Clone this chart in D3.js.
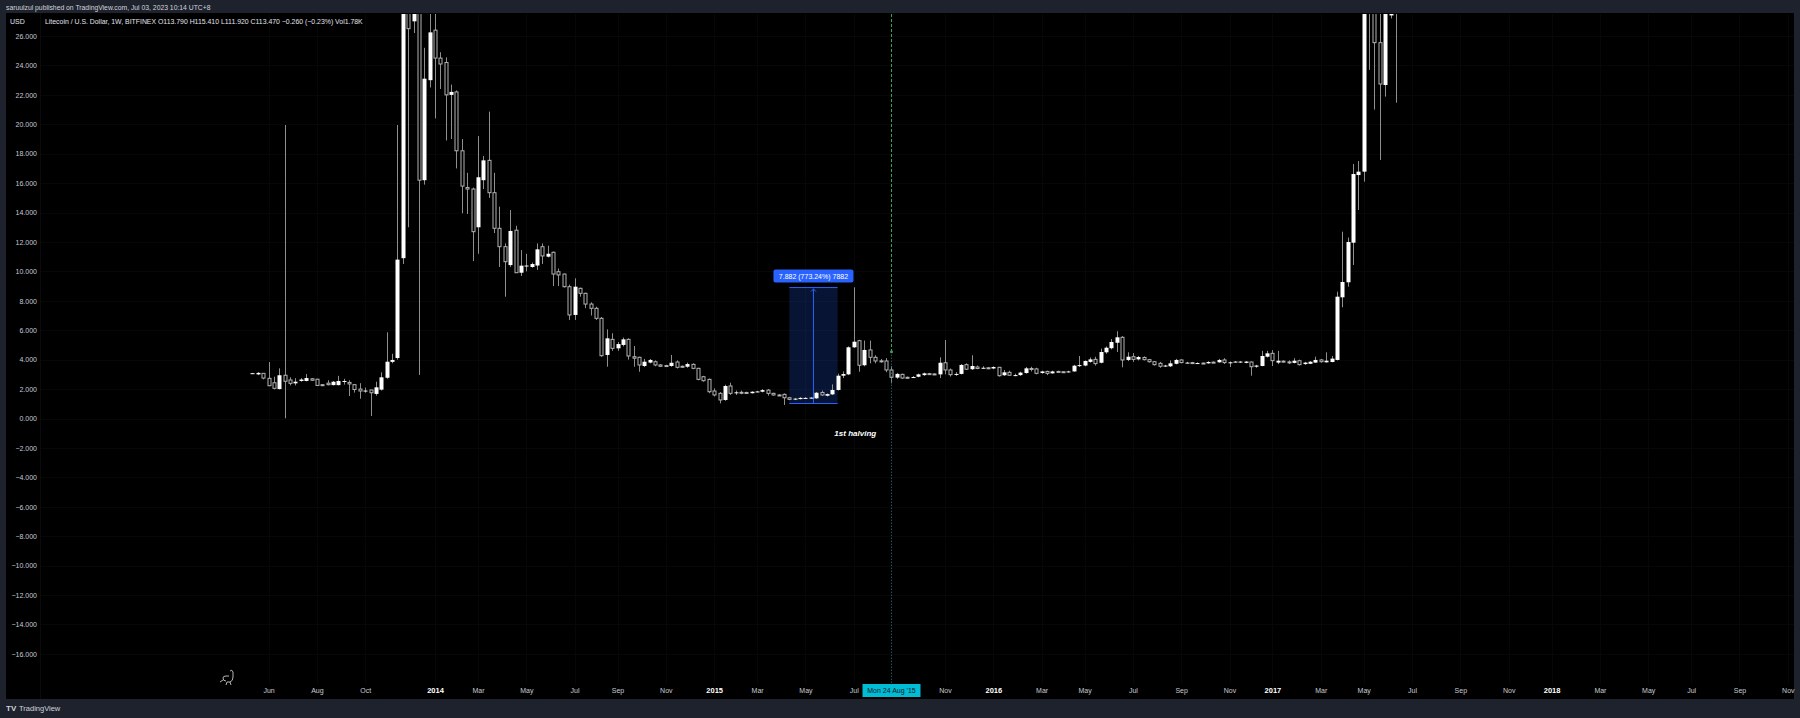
<!DOCTYPE html>
<html><head><meta charset="utf-8">
<script src="https://cdn.jsdelivr.net/npm/d3@7"></script>
<style>
html,body{margin:0;padding:0;background:#1e222d;overflow:hidden;}
svg{display:block;font-family:"Liberation Sans",Arial,sans-serif;}
</style></head><body>
<svg id="chart" width="1800" height="718"></svg>
<script>
// ---------------- DATA ----------------
const firstWeek = "2013-05-13"; // weekly bars (Mondays) start here
const opens = [3.06,3.0,3.07,2.73,2.43,2.0,2.94,2.62,2.39,2.55,2.55,2.7,2.67,2.3,2.4,2.27,2.27,2.55,2.45,2.3,
2.0,1.9,1.94,1.67,1.96,2.77,3.85,4.11,10.9,36,27.0,31,16.2,23.0,26.4,24.5,24.2,22.0,22.2,18.2,
15.7,15.6,13.0,16.2,17.55,15.35,12.93,11.68,10.43,12.8,9.91,10.35,10.3,10.4,11.68,11.0,11.3,9.98,9.82,8.96,
7.04,8.85,8.51,7.78,7.49,6.81,4.32,5.38,4.77,5.0,5.38,4.2,4.16,3.57,3.8,3.86,3.64,3.6,3.57,3.84,
3.55,3.52,3.68,3.41,2.84,2.66,1.87,1.71,1.26,2.21,1.72,1.78,1.77,1.72,1.82,1.82,1.93,1.71,1.6,1.64,
1.41,1.3,1.32,1.4,1.4,1.37,1.77,1.55,1.64,1.94,2.91,3.0,4.84,5.29,3.62,4.66,4.16,3.92,3.91,3.3,
2.78,3.0,2.8,2.8,2.84,2.95,3.05,3.03,3.0,3.79,3.3,3.0,3.03,3.66,3.35,3.5,3.42,3.45,3.4,3.48,
2.94,3.14,2.95,2.95,3.09,3.4,3.37,3.09,3.2,3.07,3.2,3.18,3.15,3.2,3.6,3.6,3.85,4.02,3.79,4.5,
4.78,5.15,5.52,3.98,4.2,4.02,4.15,4.0,3.86,3.75,3.55,3.55,3.72,3.98,3.8,3.8,3.75,3.77,3.75,3.83,
3.82,3.98,3.82,3.84,3.82,3.78,3.84,3.52,3.57,4.2,4.43,3.8,3.9,3.85,3.78,3.93,3.7,3.72,3.8,3.98,
3.82,3.84,3.98,8.24,9.26,11.95,16.55,16.78,29.5,28.5,25.55,22.67,27.4,30];
const highs = [3.1,3.15,3.08,3.84,2.84,3.41,19.95,2.8,2.74,2.75,3.02,2.75,2.7,2.33,2.6,2.55,2.9,2.7,2.6,2.35,
2.4,2.1,1.96,2.5,3.14,5.86,4.4,19.95,45,48,35,33,25.2,28.5,28.5,24.9,24.55,22.7,22.3,19.0,
16.7,15.7,19.2,17.85,20.86,16.7,14.4,11.9,14.17,13.1,11.45,11.2,10.6,11.9,11.9,11.75,11.35,10.2,9.85,9.1,
9.53,8.9,8.55,7.9,7.6,6.9,6.06,5.8,5.2,5.5,5.45,4.93,4.2,4.05,4.05,3.95,3.7,3.65,4.32,3.95,
3.6,3.8,3.75,3.45,2.9,2.72,2.05,1.8,2.3,2.43,1.9,1.9,1.82,1.85,1.88,2.0,2.0,1.75,1.65,1.7,
1.45,1.4,1.45,1.45,1.45,1.8,1.9,1.7,2.32,3.05,3.2,4.9,8.92,5.35,5.3,5.3,4.3,4.05,4.1,3.55,
3.1,3.05,2.85,2.88,3.05,3.12,3.1,3.08,4.16,5.34,3.4,3.15,3.7,3.75,4.3,3.6,3.55,3.5,3.55,3.5,
3.3,3.25,3.05,3.18,3.5,3.52,3.45,3.25,3.25,3.25,3.25,3.22,3.25,3.65,4.25,3.95,4.15,4.2,4.75,4.9,
5.4,5.93,5.6,4.5,4.45,4.25,4.22,4.05,3.9,3.85,3.65,3.95,4.05,4.02,3.85,3.85,3.82,3.8,3.9,3.88,
4.05,4.1,3.88,3.9,3.9,3.9,3.88,3.65,4.6,4.6,4.65,4.6,3.95,3.95,4.1,4.0,3.85,3.9,4.2,4.05,
4.5,4.25,8.62,12.7,12.3,17.3,17.5,32,31,29.5,28.5,32,31,32];
const lows = [3.05,2.95,2.66,2.2,1.98,1.98,0.01,2.25,2.25,2.5,2.53,2.55,2.2,2.2,2.25,2.25,2.25,2.3,1.53,1.76,
1.35,1.75,0.17,1.55,1.9,2.7,3.75,4.0,10.5,13.0,26.2,2.96,15.9,22.5,20.4,22.4,18.9,19.0,17.0,13.95,
13.9,10.7,11.2,15.6,15.0,12.6,10.3,8.28,10.3,9.9,9.69,10.0,10.25,10.1,10.5,10.95,9.0,9.0,8.9,6.7,
6.7,8.28,7.5,7.0,6.7,4.2,3.52,4.6,4.6,4.9,4.0,3.52,3.18,3.5,3.75,3.55,3.5,3.5,3.52,3.4,
3.45,3.45,3.35,2.6,2.5,1.72,1.5,1.03,1.2,1.6,1.6,1.65,1.68,1.7,1.78,1.78,1.55,1.55,1.55,0.92,
1.25,1.25,1.3,1.35,1.36,1.35,1.55,1.5,1.6,1.9,2.75,2.95,4.8,3.18,3.55,3.75,3.75,3.8,3.15,2.39,
2.7,2.7,2.72,2.75,2.8,2.9,2.98,2.95,2.75,3.0,2.85,2.9,3.0,3.3,3.3,3.35,3.38,3.35,3.35,2.85,
2.9,2.9,2.88,2.9,3.05,3.2,3.0,3.05,2.95,3.05,3.12,3.1,3.12,3.18,3.5,3.55,3.8,3.6,3.75,4.4,
4.7,4.52,3.48,3.9,3.85,3.95,3.95,3.8,3.6,3.45,3.5,3.5,3.68,3.75,3.75,3.7,3.7,3.7,3.72,3.78,
3.8,3.7,3.5,3.8,3.78,3.75,2.91,3.45,3.55,4.15,3.57,3.7,3.8,3.7,3.75,3.6,3.65,3.7,3.78,3.8,
3.8,3.82,3.95,7.56,8.96,10.43,14.17,16.1,23.7,21.0,17.57,21.88,27.2,21.47];
const closes = [3.08,3.1,2.75,2.23,2.05,2.94,2.53,2.39,2.5,2.65,2.75,2.6,2.25,2.25,2.3,2.5,2.55,2.55,2.35,1.97,
1.87,1.9,1.75,2.12,2.8,3.86,3.98,10.8,36,26.5,31,16.2,23.1,26.25,24.5,24.1,22.0,22.2,18.2,15.8,
15.6,12.7,16.4,17.55,15.35,12.93,11.68,10.66,12.75,9.91,10.39,10.4,10.5,11.5,11.05,11.2,9.82,9.76,8.96,7.04,
8.96,8.51,7.78,7.49,6.81,4.27,5.45,4.77,5.06,5.38,4.25,4.1,3.64,3.86,3.98,3.64,3.55,3.55,3.79,3.48,
3.5,3.7,3.41,2.66,2.57,1.82,1.6,1.26,2.21,1.71,1.78,1.75,1.73,1.82,1.84,1.93,1.71,1.6,1.58,1.41,
1.3,1.35,1.4,1.4,1.42,1.75,1.6,1.66,1.94,2.91,3.02,4.84,5.22,3.62,4.66,4.16,3.91,3.9,3.3,2.8,
3.03,2.75,2.78,2.82,3.0,3.07,3.03,3.0,3.79,3.3,2.98,3.03,3.64,3.35,3.57,3.4,3.45,3.4,3.5,2.91,
3.14,2.94,2.95,3.12,3.41,3.37,3.07,3.2,3.07,3.2,3.18,3.15,3.2,3.59,3.63,3.91,4.02,3.73,4.52,4.81,
5.2,5.52,3.98,4.2,4.02,4.18,4.0,3.86,3.66,3.55,3.6,3.75,3.98,3.8,3.8,3.75,3.77,3.75,3.84,3.82,
3.98,3.8,3.82,3.87,3.87,3.87,3.52,3.6,4.25,4.43,3.93,3.93,3.85,3.8,3.93,3.66,3.8,3.86,3.98,3.86,
3.93,4.07,8.28,9.28,12.0,16.62,16.78,29.5,28.5,25.55,22.74,29,30,29];

const yTicks = [26,24,22,20,18,16,14,12,10,8,6,4,2,0,-2,-4,-6,-8,-10,-12,-14,-16];
const xTickDates = ["2013-06-03","2013-08-05","2013-10-07","2014-01-06","2014-03-03","2014-05-05","2014-07-07","2014-09-01","2014-11-03",
"2015-01-05","2015-03-02","2015-05-04","2015-07-06","2015-11-02","2016-01-04","2016-03-07","2016-05-02","2016-07-04","2016-09-05","2016-11-07",
"2017-01-02","2017-03-06","2017-05-01","2017-07-03","2017-09-04","2017-11-06","2018-01-01","2018-03-05","2018-05-07","2018-07-02","2018-09-03","2018-11-05"];
const xTickLabels = ["Jun","Aug","Oct","2014","Mar","May","Jul","Sep","Nov",
"2015","Mar","May","Jul","Nov","2016","Mar","May","Jul","Sep","Nov",
"2017","Mar","May","Jul","Sep","Nov","2018","Mar","May","Jul","Sep","Nov"];

const rangeStart = "2015-04-13", rangeEnd = "2015-06-15";
const rangeLow = 1.0194, rangeHigh = 8.9014;
const rangeLabel = "7.882 (773.24%) 7882";
const halvingDate = "2015-08-24", halvingLinePrice = 4.54;
const halvingText = "1st halving", halvingTextDate = "2015-07-08", halvingTextPrice = -1.0;
const crosshairLabel = "Mon 24 Aug '15";
const headerText = "saruulzul published on TradingView.com, Jul 03, 2023 10:14 UTC+8";
const titleText = "Litecoin / U.S. Dollar, 1W, BITFINEX  O113.790 H115.410 L111.920 C113.470 \u22120.260 (\u22120.23%) Vol1.78K";
const currency = "USD";

// ---------------- LAYOUT ----------------
const W = 1800, H = 718;
const pane = {x0: 6, x1: 1794, y0: 13, y1: 699};
const plot = {x0: 41, x1: 1794, y0: 14, y1: 684};
const parse = d3.utcParse("%Y-%m-%d");

const x = d3.scaleUtc().domain([parse("2014-01-06"), parse("2018-01-01")]).range([435, 1551.6]);
const y = d3.scaleLinear().domain([0, 26]).range([418.5, 418.5 - 26 * 14.71]);

const bars = opens.map((o, i) => ({
  date: d3.utcWeek.offset(parse(firstWeek), i),
  o, h: highs[i], l: lows[i], c: closes[i]
}));

const svg = d3.select("#chart");
svg.append("rect").attr("width", W).attr("height", H).attr("fill", "#1e222d");
svg.append("rect").attr("x", pane.x0).attr("y", pane.y0).attr("width", pane.x1 - pane.x0).attr("height", pane.y1 - pane.y0).attr("fill", "#000000");

// header
svg.append("text").attr("x", 6).attr("y", 9.5).attr("fill", "#d1d4dc").attr("font-size", 6.8).text(headerText);

const defs = svg.append("defs");
defs.append("clipPath").attr("id", "clip").append("rect")
  .attr("x", plot.x0).attr("y", plot.y0).attr("width", plot.x1 - plot.x0).attr("height", plot.y1 - plot.y0);

// grid (very faint)
const grid = svg.append("g").attr("clip-path", "url(#clip)");
grid.selectAll("line.v").data(xTickDates).join("line")
  .attr("x1", d => Math.round(x(parse(d))) + 0.5).attr("x2", d => Math.round(x(parse(d))) + 0.5)
  .attr("y1", plot.y0).attr("y2", plot.y1).attr("stroke", "#070709").attr("stroke-width", 1);
grid.selectAll("line.h").data(yTicks).join("line")
  .attr("x1", plot.x0).attr("x2", plot.x1)
  .attr("y1", d => Math.round(y(d)) + 0.5).attr("y2", d => Math.round(y(d)) + 0.5)
  .attr("stroke", "#070709").attr("stroke-width", 1);

// separator between price axis and plot
svg.append("line").attr("x1", 40.5).attr("x2", 40.5).attr("y1", pane.y0).attr("y2", pane.y1)
  .attr("stroke", "#0b0b0e");

// y axis
const yAxis = d3.axisLeft(y).tickValues(yTicks).tickSize(0).tickPadding(0)
  .tickFormat(d => (d < 0 ? "\u2212" : "") + d3.format(".3f")(Math.abs(d)));
const gy = svg.append("g").attr("transform", "translate(37,0)").call(yAxis);
gy.select(".domain").remove();
gy.selectAll("text").attr("fill", "#c8cbd3").attr("font-size", 7).attr("font-family", "Liberation Sans, Arial, sans-serif");

svg.append("text").attr("x", 10).attr("y", 24).attr("fill", "#e0e3eb").attr("font-size", 7).text(currency);
svg.append("text").attr("x", 45).attr("y", 24).attr("fill", "#e0e3eb").attr("font-size", 6.9).text(titleText);

// measure range box
const rx0 = x(parse(rangeStart)), rx1 = x(parse(rangeEnd));
const ry0 = y(rangeHigh), ry1 = y(rangeLow);
const rg = svg.append("g").attr("clip-path", "url(#clip)");
rg.append("rect").attr("x", rx0).attr("y", ry0).attr("width", rx1 - rx0).attr("height", ry1 - ry0)
  .attr("fill", "rgba(41,98,255,0.2)");
rg.append("line").attr("x1", rx0).attr("x2", rx1).attr("y1", ry0).attr("y2", ry0).attr("stroke", "#2962ff").attr("stroke-width", 1);
rg.append("line").attr("x1", rx0).attr("x2", rx1).attr("y1", ry1).attr("y2", ry1).attr("stroke", "#2962ff").attr("stroke-width", 1);
const rmx = (rx0 + rx1) / 2;
rg.append("line").attr("x1", rmx).attr("x2", rmx).attr("y1", ry1).attr("y2", ry0 + 1).attr("stroke", "#2962ff").attr("stroke-width", 1);
rg.append("path").attr("d", `M${rmx - 2.5},${ry0 + 4} L${rmx},${ry0 + 1.5} L${rmx + 2.5},${ry0 + 4}`)
  .attr("fill", "none").attr("stroke", "#2962ff").attr("stroke-width", 1);

// candles
const cg = svg.append("g").attr("clip-path", "url(#clip)");
const cand = cg.selectAll("g.c").data(bars).join("g");
cand.append("line")
  .attr("x1", d => Math.round(x(d.date)) + 0.5).attr("x2", d => Math.round(x(d.date)) + 0.5)
  .attr("y1", d => y(d.h)).attr("y2", d => y(d.l))
  .attr("stroke", "#8f8f8f").attr("stroke-width", 1);
cand.append("rect")
  .attr("x", d => d.c >= d.o ? Math.round(x(d.date)) - 1.5 : Math.round(x(d.date)) - 1)
  .attr("width", d => d.c >= d.o ? 4 : 3)
  .attr("y", d => y(Math.max(d.o, d.c)))
  .attr("height", d => Math.max(1, Math.abs(y(d.o) - y(d.c))))
  .attr("fill", d => d.c >= d.o ? "#ffffff" : "#000000")
  .attr("stroke", d => d.c >= d.o ? "none" : "#b4b4b4")
  .attr("stroke-width", 1);

// range label
const lw = 80, lh = 13;
svg.append("rect").attr("x", rmx - lw / 2).attr("y", ry0 - 5 - lh).attr("width", lw).attr("height", lh)
  .attr("rx", 2).attr("fill", "#2962ff");
svg.append("text").attr("x", rmx).attr("y", ry0 - 5 - lh / 2).attr("dy", "0.35em")
  .attr("text-anchor", "middle").attr("fill", "#ffffff").attr("font-size", 7).text(rangeLabel);

// halving line + crosshair
const hx = Math.round(x(parse(halvingDate))) + 0.5;
svg.append("line").attr("x1", hx).attr("x2", hx).attr("y1", y(halvingLinePrice)).attr("y2", plot.y1)
  .attr("stroke", "#1e7f8c").attr("stroke-width", 1).attr("stroke-dasharray", "1,2");
svg.append("line").attr("x1", hx).attr("x2", hx).attr("y1", plot.y0).attr("y2", y(halvingLinePrice))
  .attr("stroke", "#3aa357").attr("stroke-width", 1).attr("stroke-dasharray", "3,2");
svg.append("circle").attr("cx", hx).attr("cy", y(halvingLinePrice)).attr("r", 1.5).attr("fill", "#3aa357");

svg.append("text").attr("x", x(parse(halvingTextDate))).attr("y", y(halvingTextPrice))
  .attr("text-anchor", "middle").attr("dy", "0.35em")
  .attr("fill", "#ffffff").attr("font-size", 8).attr("font-style", "italic").attr("font-weight", "bold")
  .text(halvingText);

// x axis
const xAxis = d3.axisBottom(x).tickValues(xTickDates.map(parse)).tickSize(0).tickPadding(0)
  .tickFormat((d, i) => xTickLabels[i]);
const gx = svg.append("g").attr("transform", "translate(0,688)").call(xAxis);
gx.select(".domain").remove();
gx.selectAll("text")
  .attr("font-size", (d, i) => /^\d{4}$/.test(xTickLabels[i]) ? 7.5 : 7)
  .attr("font-weight", (d, i) => /^\d{4}$/.test(xTickLabels[i]) ? "bold" : "normal")
  .attr("fill", (d, i) => /^\d{4}$/.test(xTickLabels[i]) ? "#ffffff" : "#c8cbd3")
  .attr("font-family", "Liberation Sans, Arial, sans-serif");

// crosshair date label
svg.append("rect").attr("x", hx - 29).attr("y", 684).attr("width", 58).attr("height", 13).attr("fill", "#00bcd4");
svg.append("text").attr("x", hx).attr("y", 690.5).attr("dy", "0.35em").attr("text-anchor", "middle")
  .attr("fill", "#131722").attr("font-size", 7).text(crosshairLabel);

// little dino icon
svg.append("path").attr("d", "M230,671 q2,-2 3,1 l0,5 q0,4 -3,5 l-3,0 l-1,3 m4,-3 l1,3 m-5,-4 q-3,0 -3,-3 q0,-2 3,-2 l3,0 m-6,4 l-3,2")
  .attr("fill", "none").attr("stroke", "#c8c8c8").attr("stroke-width", 0.9);

// footer logo
svg.append("text").attr("x", 6).attr("y", 711).attr("fill", "#d1d4dc").attr("font-size", 8).attr("font-weight", "bold").text("TV");
svg.append("text").attr("x", 19).attr("y", 711).attr("fill", "#d1d4dc").attr("font-size", 7.5).text("TradingView");
</script>
</body></html>
